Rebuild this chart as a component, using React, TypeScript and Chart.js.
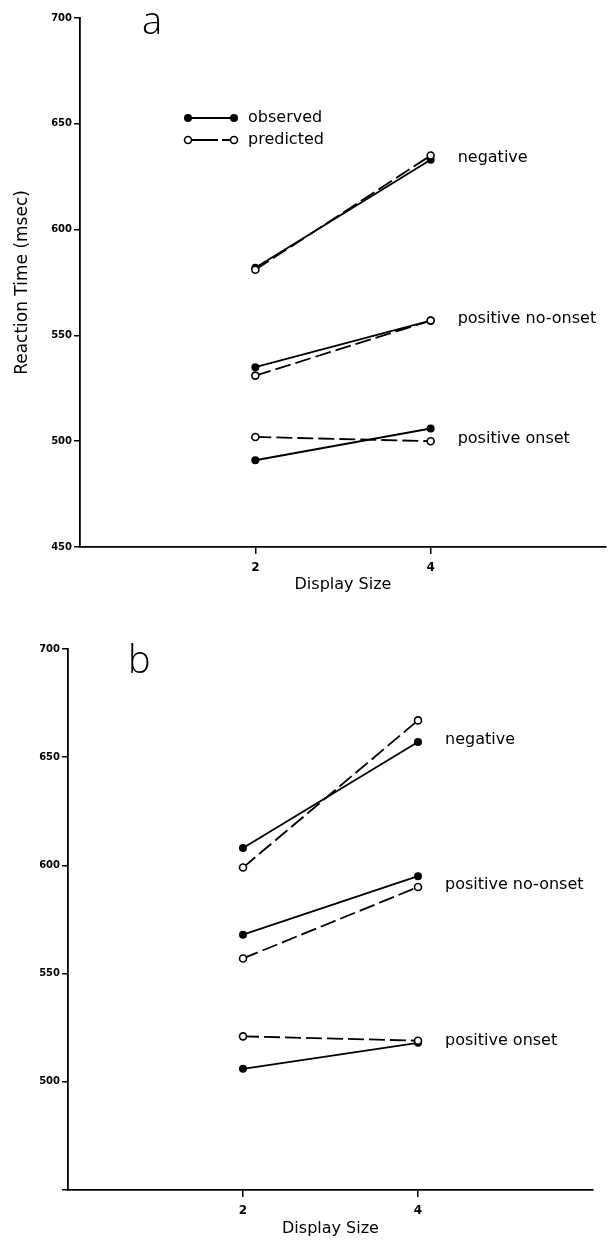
import React, { useEffect, useRef } from "react";
import { Chart, registerables } from "chart.js";

Chart.register(...registerables);

// ---------- data ----------
const displaySizes = [2, 4];
const xTickValues = [2, 4];
const yTickValues = [450, 500, 550, 600, 650, 700];
const conditionNames = ["negative", "positive no-onset", "positive onset"];
const legendNames = ["observed", "predicted"];
const xAxisTitle = "Display Size";
const yAxisTitle = "Reaction Time (msec)";

// panel a
const aNegativeObserved = [582, 633];
const aNegativePredicted = [581, 635];
const aNoOnsetObserved = [535, 557];
const aNoOnsetPredicted = [531, 557];
const aOnsetObserved = [491, 506];
const aOnsetPredicted = [502, 500];

// panel b
const bNegativeObserved = [608, 657];
const bNegativePredicted = [599, 667];
const bNoOnsetObserved = [568, 595];
const bNoOnsetPredicted = [557, 590];
const bOnsetObserved = [506, 518];
const bOnsetPredicted = [521, 519];

// ---------- styles ----------
const FONT = '"DejaVu Sans", sans-serif';
const BLACK = "#000";
const DASH = [16, 5];

type PanelCfg = {
  letter: string;
  observed: number[][];
  predicted: number[][];
  canvasTop: number;
  canvasHeight: number;
  padTop: number;
  padRight: number;
  yWidth: number;
  xHeight: number;
  xTitlePad: number;
  showYTitle: boolean;
  hideBottomTick: boolean;
  letterX: number;
  letterBaseline: number;
  showLegend: boolean;
};

const panels: PanelCfg[] = [
  {
    letter: "a",
    observed: [aNegativeObserved, aNoOnsetObserved, aOnsetObserved],
    predicted: [aNegativePredicted, aNoOnsetPredicted, aOnsetPredicted],
    canvasTop: 0,
    canvasHeight: 621,
    padTop: 18,
    padRight: 8,
    yWidth: 80,
    xHeight: 74,
    xTitlePad: 27,
    showYTitle: true,
    hideBottomTick: false,
    letterX: 142,
    letterBaseline: 34,
    showLegend: true,
  },
  {
    letter: "b",
    observed: [bNegativeObserved, bNoOnsetObserved, bOnsetObserved],
    predicted: [bNegativePredicted, bNoOnsetPredicted, bOnsetPredicted],
    canvasTop: 621,
    canvasHeight: 622,
    padTop: 28,
    padRight: 21,
    yWidth: 68,
    xHeight: 53,
    xTitlePad: 5,
    showYTitle: false,
    hideBottomTick: true,
    letterX: 128,
    letterBaseline: 52,
    showLegend: false,
  },
];

function drawMarker(ctx: CanvasRenderingContext2D, x: number, y: number, filled: boolean) {
  ctx.beginPath();
  ctx.arc(x, y, filled ? 4 : 3.5, 0, Math.PI * 2);
  if (filled) {
    ctx.fillStyle = BLACK;
    ctx.fill();
  } else {
    ctx.fillStyle = "#fff";
    ctx.fill();
    ctx.lineWidth = 1.6;
    ctx.strokeStyle = BLACK;
    ctx.stroke();
  }
}

function Panel({ cfg }: { cfg: PanelCfg }) {
  const ref = useRef<HTMLCanvasElement | null>(null);

  useEffect(() => {
    const canvas = ref.current;
    if (!canvas) return;

    const datasets: any[] = [];
    conditionNames.forEach((name, i) => {
      datasets.push({
        label: name + " predicted",
        data: displaySizes.map((x, j) => ({ x, y: cfg.predicted[i][j] })),
        borderColor: BLACK,
        borderWidth: 1.8,
        borderDash: DASH,
        pointRadius: 3.5,
        pointBackgroundColor: "#fff",
        pointBorderColor: BLACK,
        pointBorderWidth: 1.6,
        fill: false,
        tension: 0,
      });
    });
    conditionNames.forEach((name, i) => {
      datasets.push({
        label: name + " observed",
        data: displaySizes.map((x, j) => ({ x, y: cfg.observed[i][j] })),
        borderColor: BLACK,
        borderWidth: 1.8,
        pointRadius: 4,
        pointBackgroundColor: BLACK,
        pointBorderColor: BLACK,
        pointBorderWidth: 0,
        fill: false,
        tension: 0,
      });
    });

    const annotations = {
      id: "annotations" + cfg.letter,
      afterDatasetsDraw(chart: any) {
        const ctx: CanvasRenderingContext2D = chart.ctx;
        const xs = chart.scales.x;
        const ys = chart.scales.y;
        ctx.save();
        // condition labels
        ctx.fillStyle = BLACK;
        ctx.font = `16px ${FONT}`;
        ctx.textAlign = "left";
        ctx.textBaseline = "middle";
        const j = displaySizes.length - 1;
        const lastX = displaySizes[j];
        conditionNames.forEach((name, i) => {
          const v = Math.min(cfg.observed[i][j], cfg.predicted[i][j]);
          ctx.fillText(name, xs.getPixelForValue(lastX) + 27, ys.getPixelForValue(v) - 2);
        });
        // panel letter
        ctx.font = `300 38px "Open Sans", ${FONT}`;
        ctx.textBaseline = "alphabetic";
        ctx.fillText(cfg.letter, cfg.letterX, cfg.letterBaseline);
        // legend
        if (cfg.showLegend) {
          const x0 = 188;
          const x1 = 234;
          const rows = [118, 140];
          legendNames.forEach((name, k) => {
            const y = rows[k];
            ctx.beginPath();
            ctx.setLineDash(k === 0 ? [] : [30, 4]);
            ctx.lineWidth = 1.8;
            ctx.strokeStyle = BLACK;
            ctx.moveTo(x0, y);
            ctx.lineTo(x1, y);
            ctx.stroke();
            ctx.setLineDash([]);
            drawMarker(ctx, x0, y, k === 0);
            drawMarker(ctx, x1, y, k === 0);
            ctx.fillStyle = BLACK;
            ctx.font = `16px ${FONT}`;
            ctx.textBaseline = "middle";
            ctx.fillText(name, 248, y);
          });
        }
        ctx.restore();
      },
    };

    const chart = new Chart(canvas, {
      type: "line",
      data: { datasets },
      options: {
        animation: false,
        responsive: false,
        devicePixelRatio: 1,
        layout: { padding: { top: cfg.padTop, right: cfg.padRight, left: 0, bottom: 0 } },
        plugins: { legend: { display: false }, tooltip: { enabled: false } },
        scales: {
          x: {
            type: "linear",
            min: 0,
            max: 6,
            afterBuildTicks: (s: any) => {
              s.ticks = xTickValues.map((v) => ({ value: v }));
            },
            afterFit: (s: any) => {
              s.height = cfg.xHeight;
            },
            ticks: {
              font: { family: FONT, weight: "bold", size: 12 },
              color: BLACK,
              padding: 7,
              autoSkip: false,
              maxRotation: 0,
            },
            grid: { drawOnChartArea: false, drawTicks: true, tickLength: 7, color: BLACK, lineWidth: 1.5 },
            border: { display: true, color: BLACK, width: 1.8 },
            title: {
              display: true,
              text: xAxisTitle,
              color: BLACK,
              font: { family: FONT, size: 16 },
              padding: { top: 0, bottom: cfg.xTitlePad },
            },
          },
          y: {
            type: "linear",
            min: 450,
            max: 700,
            afterBuildTicks: (s: any) => {
              s.ticks = yTickValues.map((v) => ({ value: v }));
            },
            afterFit: (s: any) => {
              s.width = cfg.yWidth;
            },
            ticks: {
              font: { family: FONT, weight: "bold", size: 10 },
              color: BLACK,
              padding: 2,
              callback: (v: any) => (cfg.hideBottomTick && v === yTickValues[0] ? "" : String(v)),
            },
            grid: { drawOnChartArea: false, drawTicks: true, tickLength: 6, color: BLACK, lineWidth: 1.5 },
            border: { display: true, color: BLACK, width: 1.8 },
            title: {
              display: cfg.showYTitle,
              text: yAxisTitle,
              color: BLACK,
              font: { family: FONT, size: 17 },
              padding: { top: 12, bottom: 0 },
            },
          },
        },
      } as any,
      plugins: [annotations],
    });
    return () => chart.destroy();
  }, [cfg]);

  return (
    <canvas
      ref={ref}
      width={614}
      height={cfg.canvasHeight}
      style={{ position: "absolute", left: 0, top: cfg.canvasTop, width: 614, height: cfg.canvasHeight }}
    />
  );
}

export default function App() {
  useEffect(() => {
    document.body.style.margin = "0";
    document.body.style.background = "#fff";
  }, []);
  return (
    <div style={{ position: "absolute", left: 0, top: 0, width: 614, height: 1243, background: "#fff" }}>
      {panels.map((p) => (
        <Panel key={p.letter} cfg={p} />
      ))}
    </div>
  );
}
